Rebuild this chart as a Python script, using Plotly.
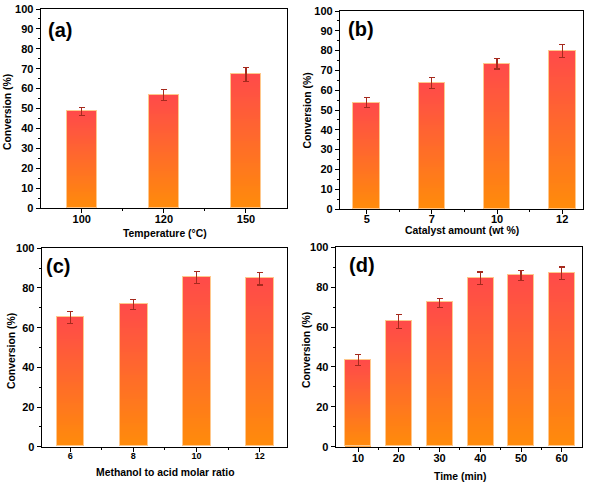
import plotly.graph_objects as go

# ---------------- data ----------------
temp_labels = ["100", "120", "150"]
temp_conv = [48.5, 56.7, 67.1]
temp_err = [2.1, 2.8, 3.5]

cat_labels = ["5", "7", "10", "12"]
cat_conv = [53.7, 63.5, 73.4, 79.8]
cat_err = [2.4, 2.8, 2.7, 3.4]

ratio_labels = ["6", "8", "10", "12"]
ratio_conv = [65.2, 71.6, 85.4, 84.7]
ratio_err = [3.0, 2.5, 3.0, 3.2]

time_labels = ["10", "20", "30", "40", "50", "60"]
time_conv = [43.5, 62.7, 72.2, 84.4, 85.8, 87.0]
time_err = [2.8, 3.5, 2.2, 3.2, 2.5, 3.1]

y_title = "Conversion (%)"
x_titles = ["Temperature (°C)", "Catalyst amount (wt %)",
            "Methanol to acid molar ratio", "Time (min)"]
panel_labels = ["(a)", "(b)", "(c)", "(d)"]

W, H = 591, 485
FONT = "Arial, Liberation Sans, sans-serif"
RED = (255, 74, 74)
ORANGE = (255, 140, 10)
NSEG = 60


def px_x(a, b):
    return [a / W, b / W]


def px_y(top, bottom):
    return [1 - bottom / H, 1 - top / H]


panels = [
    dict(cats=temp_labels, vals=temp_conv, errs=temp_err,
         xd=px_x(40.7, 287), yd=px_y(9, 208),
         xr=[-0.5, 2.5], bw=0.37, dtick=10, mdt=5, xfs=11, xls=-3,
         ytpos=(7, 112), xtpos=(164.5, 233.5), labxy=(60, 30)),
    dict(cats=cat_labels, vals=cat_conv, errs=cat_err,
         xd=px_x(340, 583), yd=px_y(11, 209),
         xr=[-0.41, 3.32], bw=0.41, dtick=10, mdt=5, xfs=11, xls=-4,
         ytpos=(307.5, 110), xtpos=(462, 230.5), labxy=(361, 29)),
    dict(cats=ratio_labels, vals=ratio_conv, errs=ratio_err,
         xd=px_x(41.7, 287), yd=px_y(248.3, 446.7),
         xr=[-0.45, 3.43], bw=0.44, dtick=20, mdt=10, xfs=9, xls=-4,
         ytpos=(11, 351), xtpos=(165, 472.5), labxy=(58, 266)),
    dict(cats=time_labels, vals=time_conv, errs=time_err,
         xd=px_x(335.7, 581.7), yd=px_y(247.3, 446.7),
         xr=[-0.55, 5.49], bw=0.64, dtick=20, mdt=10, xfs=11, xls=-3,
         ytpos=(306, 350), xtpos=(460, 476.5), labxy=(362, 265)),
]


def mix(t):
    r = [round(ORANGE[i] + (RED[i] - ORANGE[i]) * t) for i in range(3)]
    return f"rgb({r[0]},{r[1]},{r[2]})"


fig = go.Figure()
layout = {}
annotations = []
titlefont = dict(family=FONT, size=10.4, color="black", weight=700)

for p_i, p in enumerate(panels):
    n = p_i + 1
    sfx = "" if n == 1 else str(n)
    xa, ya = "x" + sfx, "y" + sfx
    ov = str(n + 4)
    xo = "x" + ov
    idx = list(range(len(p["cats"])))

    # gradient bars: stacked slices of each bar
    for k in range(NSEG):
        t = (k + 0.5) / NSEG
        fig.add_trace(go.Bar(
            x=idx, y=[v / NSEG for v in p["vals"]], width=p["bw"],
            marker=dict(color=mix(t), line=dict(width=0)),
            xaxis=xa, yaxis=ya, showlegend=False, hoverinfo="skip"))

    # outline + error bars
    fig.add_trace(go.Bar(
        x=idx, y=p["vals"], width=p["bw"],
        marker=dict(color="rgba(0,0,0,0)", line=dict(color="#FFC88C", width=1)),
        error_y=dict(type="data", array=p["errs"], visible=True,
                     color="#A52A1E", thickness=1.1, width=3),
        xaxis=xo, yaxis=ya, showlegend=False,
        hovertemplate="%{y}<extra></extra>"))

    tickfont = dict(family=FONT, size=11, color="black", weight=700)

    layout["xaxis" + sfx] = dict(
        domain=p["xd"], anchor=ya, range=p["xr"],
        tickmode="array", tickvals=idx, ticktext=p["cats"],
        ticks="outside", ticklen=4, tickwidth=1, tickcolor="black",
        ticklabelstandoff=p["xls"],
        minor=dict(tickmode="array", tickvals=[i + 0.5 for i in idx[:-1]],
                   ticks="outside", ticklen=2, tickcolor="black"),
        showline=True, linecolor="black", linewidth=1.2, mirror=True,
        showgrid=False, zeroline=False,
        tickfont=dict(family=FONT, size=p["xfs"], color="black", weight=700),
        automargin=False, fixedrange=True)
    layout["xaxis" + ov] = dict(
        domain=p["xd"], anchor=ya, range=p["xr"], overlaying=xa,
        visible=False, fixedrange=True)
    layout["yaxis" + sfx] = dict(
        domain=p["yd"], anchor=xa, range=[0, 100],
        tick0=0, dtick=p["dtick"],
        ticks="outside", ticklen=4, tickwidth=1, tickcolor="black",
        minor=dict(dtick=p["mdt"], tick0=0, ticks="outside", ticklen=2,
                   tickcolor="black"),
        showline=True, linecolor="black", linewidth=1.2, mirror=True,
        showgrid=False, zeroline=False, tickfont=tickfont,
        automargin=False, fixedrange=True)

    # axis titles
    annotations.append(dict(
        text=x_titles[p_i], x=p["xtpos"][0] / W, y=1 - p["xtpos"][1] / H,
        xref="paper", yref="paper", xanchor="center", yanchor="middle",
        showarrow=False, font=titlefont))
    annotations.append(dict(
        text=y_title, x=p["ytpos"][0] / W, y=1 - p["ytpos"][1] / H,
        xref="paper", yref="paper", xanchor="center", yanchor="middle",
        textangle=-90, showarrow=False, font=titlefont))
    # panel label
    annotations.append(dict(
        text=panel_labels[p_i], x=p["labxy"][0] / W, y=1 - p["labxy"][1] / H,
        xref="paper", yref="paper", xanchor="center", yanchor="middle",
        showarrow=False,
        font=dict(family=FONT, size=20, color="black", weight=700)))

fig.update_layout(
    width=W, height=H,
    margin=dict(l=0, r=0, t=0, b=0),
    paper_bgcolor="white", plot_bgcolor="white",
    barmode="stack", bargap=0,
    showlegend=False,
    annotations=annotations,
    **layout)

fig.write_html(
    "out.html",
    config={"displayModeBar": False},
    post_script="document.body.style.margin='0px';document.body.style.overflow='hidden';",
)
